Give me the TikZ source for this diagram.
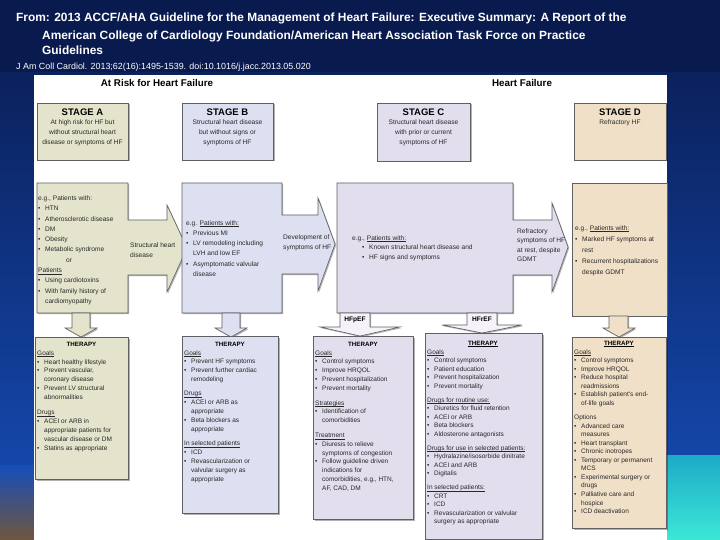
\documentclass[tikz,border=0pt]{standalone}
\usepackage{fontspec}
\setmainfont{Liberation Sans}
\usetikzlibrary{shadows}
\definecolor{bgtop}{RGB}{9,26,78}
\definecolor{bgbot}{RGB}{22,78,185}
\definecolor{tealtop}{RGB}{28,170,200}
\definecolor{tealbot}{RGB}{60,232,214}
\definecolor{brownc}{RGB}{112,86,62}
\definecolor{stageA}{RGB}{228,228,204}
\definecolor{stageB}{RGB}{220,224,240}
\definecolor{stageC}{RGB}{226,222,238}
\definecolor{stageD}{RGB}{240,224,200}
\definecolor{boxline}{RGB}{95,95,100}
\definecolor{txtc}{RGB}{40,40,40}
\newcommand{\bul}{\makebox[7pt][l]{\textbullet}}
\newcommand{\ind}{\hspace*{7pt}}
\newcommand{\ul}[1]{\underline{\smash{#1}}\vphantom{A}}
\begin{document}
\begin{tikzpicture}[x=1pt,y=-1pt,
  shp/.style={draw=boxline, line width=0.6pt, drop shadow={shadow xshift=1.2pt, shadow yshift=-1.2pt, fill=black, opacity=0.3}},
  frame/.style={shp, inner sep=0pt, anchor=north west},
  titletxt/.style={text=white, font=\fontsize{11.9}{13}\selectfont\bfseries, inner sep=0pt, anchor=base west},
  citetxt/.style={text=white, font=\fontsize{8.9}{9}\selectfont, inner sep=0pt, anchor=base west},
  headtxt/.style={text=black, font=\fontsize{9.8}{11}\selectfont\bfseries, inner sep=0pt},
  stagettl/.style={text=black, font=\fontsize{9.5}{10}\selectfont\bfseries, inner sep=0pt, anchor=base},
  stagedesc/.style={text=txtc, font=\fontsize{6.6}{10}\selectfont, inner sep=0pt, align=center, anchor=north},
  body/.style={text=txtc, inner sep=0pt, align=left, anchor=north west},
  therttl/.style={text=black, font=\fontsize{6.2}{7}\selectfont\bfseries, inner sep=0pt},
  tabtxt/.style={text=black, font=\fontsize{6.6}{7}\selectfont\bfseries, inner sep=0pt}
]
\useasboundingbox (0,0) rectangle (720,540);
% background
\shade[top color=bgtop, bottom color=bgbot] (0,0) rectangle (720,540);
\fill[bgtop] (0,0) rectangle (720,72);
\shade[top color=tealtop, bottom color=tealbot] (667,455) rectangle (720,540);
\shade[top color=bgbot, bottom color=brownc] (0,465) rectangle (34,540);
% white panel
\fill[white] (34,75) rectangle (667,540);

% title
\node[titletxt] (t1) at (16,22) {From: 2013 ACCF/AHA Guideline for the Management of Heart Failure: Executive Summary: A Report of the};
\node[titletxt] (t2) at (42,40) {American College of Cardiology Foundation/American Heart Association Task Force on Practice};
\node[titletxt] (t3) at (42,55) {Guidelines};
\node[citetxt] (cite) at (16,70) {J Am Coll Cardiol. 2013;62(16):1495-1539. doi:10.1016/j.jacc.2013.05.020};

% column headers
\node[headtxt] (hrisk) at (157,83) {At Risk for Heart Failure};
\node[headtxt] (hhf) at (522,83) {Heart Failure};

% stage boxes
\node[frame, fill=stageA, minimum width=91pt, minimum height=57pt] (sA) at (37,103) {};
\node[frame, fill=stageB, minimum width=91pt, minimum height=57pt] (sB) at (182,103) {};
\node[frame, fill=stageC, minimum width=93pt, minimum height=58pt] (sC) at (377,103) {};
\node[frame, fill=stageD, minimum width=92pt, minimum height=57pt] (sD) at (574,103) {};

\node[stagettl] (sAt) at (82.5,116) {STAGE A};
\node[stagedesc] (sAd) at (82.5,119.3) {At high risk for HF but\\without structural heart\\disease or symptoms of HF};
\node[stagettl] (sBt) at (227.5,116) {STAGE B};
\node[stagedesc] (sBd) at (227.5,119.3) {Structural heart disease\\but without signs or\\symptoms of HF};
\node[stagettl] (sCt) at (423.5,116) {STAGE C};
\node[stagedesc] (sCd) at (423.5,119.3) {Structural heart disease\\with prior or current\\symptoms of HF};
\node[stagettl] (sDt) at (620,116) {STAGE D};
\node[stagedesc] (sDd) at (620,119.3) {Refractory HF};

% middle blocks with arrows
\draw[shp, fill=stageA] (37,183) -- (128,183) -- (128,220) -- (167,220) -- (167,205) -- (187,248) -- (167,292) -- (167,275) -- (128,275) -- (128,313) -- (37,313) -- cycle;
\draw[shp, fill=stageB] (182,183) -- (282,183) -- (282,215) -- (318,215) -- (318,198) -- (335,244) -- (318,291) -- (318,274) -- (282,274) -- (282,313) -- (182,313) -- cycle;
\draw[shp, fill=stageC] (337,183) -- (513,183) -- (513,220) -- (552,220) -- (552,203) -- (568,247) -- (552,292) -- (552,275) -- (513,275) -- (513,313) -- (337,313) -- cycle;
\draw[shp, fill=stageD] (572,183) rectangle (667,316);

% down arrows
\draw[shp, fill=stageA] (72,313) -- (90,313) -- (90,328) -- (97,328) -- (81,337) -- (65,328) -- (72,328) -- cycle;
\draw[shp, fill=stageB] (222,313) -- (240,313) -- (240,328) -- (247,328) -- (231,337) -- (215,328) -- (222,328) -- cycle;
\draw[shp, fill=stageC!35] (340,313) -- (370,313) -- (370,327) -- (400,327) -- (360,336) -- (320,327) -- (340,327) -- cycle;
\draw[shp, fill=stageC!35] (467,313) -- (497,313) -- (497,325) -- (522,325) -- (482,333) -- (442,325) -- (467,325) -- cycle;
\draw[shp, fill=stageD] (609,316) -- (628,316) -- (628,328) -- (635,328) -- (619,337) -- (603,328) -- (609,328) -- cycle;
\node[tabtxt] (hfpef) at (355,320) {HFpEF};
\node[tabtxt] (hfref) at (482,319) {HFrEF};

% middle texts
\node[body, font=\fontsize{6.6}{10.3}\selectfont] (aBody) at (38,195.5) {e.g., Patients with:\\ \bul HTN\\ \bul Atherosclerotic disease\\ \bul DM\\ \bul Obesity\\ \bul Metabolic syndrome\\ \hspace*{28pt}or\\ \ul{Patients}\\ \bul Using cardiotoxins\\ \bul With family history of\\ \ind cardiomyopathy};
\node[body, font=\fontsize{6.6}{10}\selectfont] (aArr) at (130,242.5) {Structural heart\\disease};
\node[body, font=\fontsize{6.6}{10.2}\selectfont] (bBody) at (186,220.5) {e.g. \ul{Patients with:}\\ \bul Previous MI\\ \bul LV remodeling including\\ \ind LVH and low EF\\ \bul Asymptomatic valvular\\ \ind disease};
\node[body, font=\fontsize{6.6}{10}\selectfont] (bArr) at (283,234.5) {Development of\\symptoms of HF};
\node[body, font=\fontsize{6.6}{9.5}\selectfont] (cBody) at (352,235.5) {e.g., \ul{Patients with:}\\ \hspace*{10pt}\bul Known structural heart disease and\\ \hspace*{10pt}\bul HF signs and symptoms};
\node[body, font=\fontsize{6.6}{9.4}\selectfont] (cArr) at (517,228.5) {Refractory\\symptoms of HF\\at rest, despite\\GDMT};
\node[body, font=\fontsize{6.6}{11}\selectfont] (dBody) at (575,225.5) {e.g., \ul{Patients with:}\\ \bul Marked HF symptoms at\\ \ind rest\\ \bul Recurrent hospitalizations\\ \ind despite GDMT};

% therapy boxes
\node[frame, fill=stageA, minimum width=93pt, minimum height=142pt] (tA) at (35,337) {};
\node[frame, fill=stageB, minimum width=96pt, minimum height=177pt] (tB) at (182,336) {};
\node[frame, fill=stageC, minimum width=100pt, minimum height=183pt] (tP) at (313,336) {};
\node[frame, fill=stageC, minimum width=117pt, minimum height=206pt] (tR) at (425,333) {};
\node[frame, fill=stageD, minimum width=94pt, minimum height=191pt] (tD) at (572,337) {};

\node[therttl] (tAh) at (81.5,344) {THERAPY};
\node[therttl] (tBh) at (230,344.5) {THERAPY};
\node[therttl] (tPh) at (363,344.5) {THERAPY};
\node[therttl] (tRh) at (483,344) {\ul{THERAPY}};
\node[therttl] (tDh) at (619,344) {\ul{THERAPY}};

\node[body, font=\fontsize{6.5}{8.9}\selectfont] (tAb) at (37,350.5) {\ul{Goals}\\
\bul Heart healthy lifestyle\\
\bul Prevent vascular,\\
\ind coronary disease\\
\bul Prevent LV structural\\
\ind abnormalities\\[6pt]
\ul{Drugs}\\
\bul ACEI or ARB in\\
\ind appropriate patients for\\
\ind vascular disease or DM\\
\bul Statins as appropriate};

\node[body, font=\fontsize{6.5}{8.8}\selectfont] (tBb) at (184,350.5) {\ul{Goals}\\
\bul Prevent HF symptoms\\
\bul Prevent further cardiac\\
\ind remodeling\\[5.5pt]
\ul{Drugs}\\
\bul ACEI or ARB as\\
\ind appropriate\\
\bul Beta blockers as\\
\ind appropriate\\[6pt]
\ul{In selected patients}\\
\bul ICD\\
\bul Revascularization or\\
\ind valvular surgery as\\
\ind appropriate};

\node[body, font=\fontsize{6.5}{8.8}\selectfont] (tPb) at (315,350.5) {\ul{Goals}\\
\bul Control symptoms\\
\bul Improve HRQOL\\
\bul Prevent hospitalization\\
\bul Prevent mortality\\[6pt]
\ul{Strategies}\\
\bul Identification of\\
\ind comorbidities\\[6pt]
\ul{Treatment}\\
\bul Diuresis to relieve\\
\ind symptoms of congestion\\
\bul Follow guideline driven\\
\ind indications for\\
\ind comorbidities, e.g., HTN,\\
\ind AF, CAD, DM};

\node[body, font=\fontsize{6.5}{8.5}\selectfont] (tRb) at (427,349.5) {\ul{Goals}\\
\bul Control symptoms\\
\bul Patient education\\
\bul Prevent hospitalization\\
\bul Prevent mortality\\[5.5pt]
\ul{Drugs for routine use:}\\
\bul Diuretics for fluid retention\\
\bul ACEI or ARB\\
\bul Beta blockers\\
\bul Aldosterone antagonists\\[5.5pt]
\ul{Drugs for use in selected patients:}\\
\bul Hydralazine/isosorbide dinitrate\\
\bul ACEI and ARB\\
\bul Digitalis\\[5.5pt]
\ul{In selected patients:}\\
\bul CRT\\
\bul ICD\\
\bul Revascularization or valvular\\
\ind surgery as appropriate};

\node[body, font=\fontsize{6.5}{8.55}\selectfont] (tDb) at (574,349.5) {\ul{Goals}\\
\bul Control symptoms\\
\bul Improve HRQOL\\
\bul Reduce hospital\\
\ind readmissions\\
\bul Establish patient's end-\\
\ind of-life goals\\[5.5pt]
Options\\
\bul Advanced care\\
\ind measures\\
\bul Heart transplant\\
\bul Chronic inotropes\\
\bul Temporary or permanent\\
\ind MCS\\
\bul Experimental surgery or\\
\ind drugs\\
\bul Palliative care and\\
\ind hospice\\
\bul ICD deactivation};
\end{tikzpicture}
\end{document}
